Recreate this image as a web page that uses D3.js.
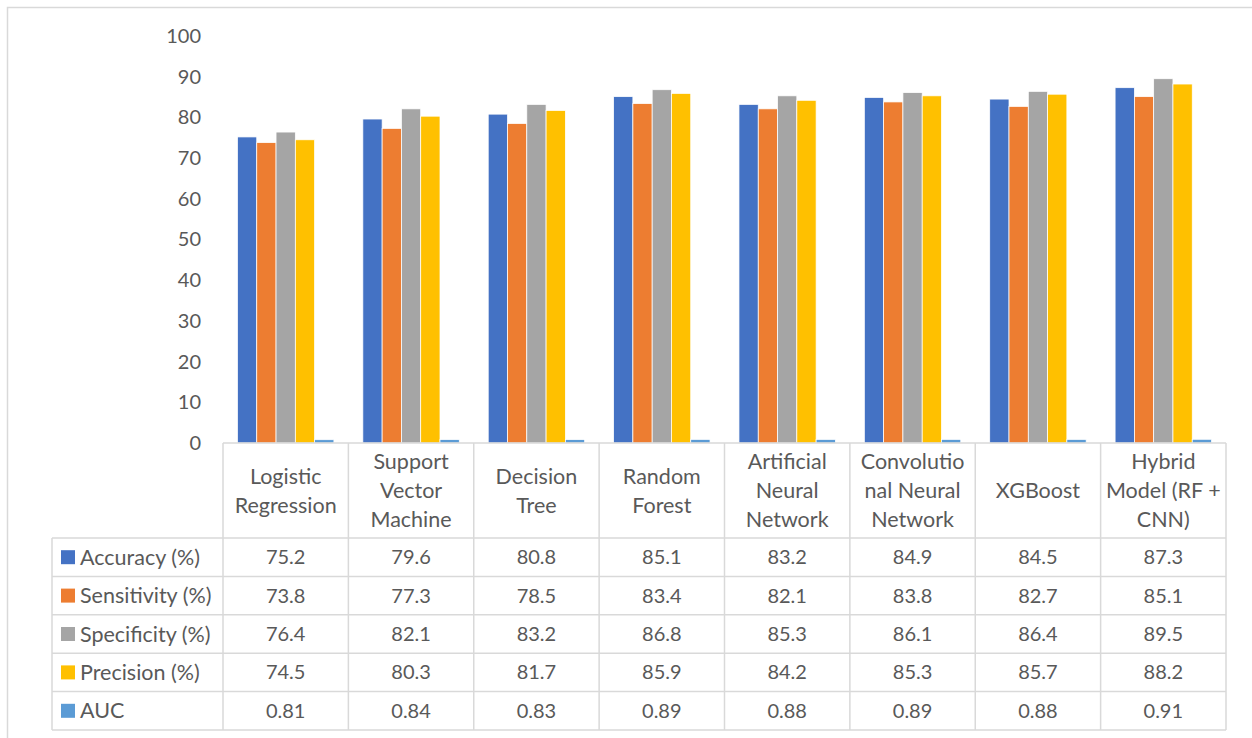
<!DOCTYPE html>
<html>
<head>
<meta charset="utf-8">
<script src="https://cdn.jsdelivr.net/npm/d3@7"></script>
<style>
  html, body { margin: 0; padding: 0; background: #fff; }
  svg { display: block; }
  text { font-family: Lato, "Open Sans", sans-serif; fill: #595959; }
</style>
</head>
<body>
<svg id="chart" width="1252" height="738"></svg>
<script>
// Models compared (header lines of the data table)
const models = [
  ["Logistic", "Regression"],
  ["Support", "Vector", "Machine"],
  ["Decision", "Tree"],
  ["Random", "Forest"],
  ["Artificial", "Neural", "Network"],
  ["Convolutio", "nal Neural", "Network"],
  ["XGBoost"],
  ["Hybrid", "Model (RF +", "CNN)"]
];

const seriesNames = ["Accuracy (%)", "Sensitivity (%)", "Specificity (%)", "Precision (%)", "AUC"];
const seriesColors = ["#4472C4", "#ED7D31", "#A5A5A5", "#FFC000", "#5B9BD5"];

const accuracy    = [75.2, 79.6, 80.8, 85.1, 83.2, 84.9, 84.5, 87.3];
const sensitivity = [73.8, 77.3, 78.5, 83.4, 82.1, 83.8, 82.7, 85.1];
const specificity = [76.4, 82.1, 83.2, 86.8, 85.3, 86.1, 86.4, 89.5];
const precision   = [74.5, 80.3, 81.7, 85.9, 84.2, 85.3, 85.7, 88.2];
const auc         = [0.81, 0.84, 0.83, 0.89, 0.88, 0.89, 0.88, 0.91];

const yTicks = [0, 10, 20, 30, 40, 50, 60, 70, 80, 90, 100];

const series = [accuracy, sensitivity, specificity, precision, auc];

const svg = d3.select("#chart");
const gridColor = "#D9D9D9";
const numSize = 20;     // digits
const wordSize = 21.5;  // words

// Plot frame
const plotLeft = 223, plotRight = 1226;
const plotTop = 36, plotBottom = 443;
const legendLeft = 52;
const headerBottom = 538;
const rowH = 38.4;

// Outer chart border
svg.append("rect")
  .attr("x", 7.5).attr("y", 7.5)
  .attr("width", 1300).attr("height", 800)
  .attr("fill", "none").attr("stroke", gridColor).attr("stroke-width", 1.5);

const x0 = d3.scaleBand()
  .domain(d3.range(models.length))
  .range([plotLeft, plotRight]);

const x1 = d3.scaleBand()
  .domain(d3.range(series.length))
  .range([0, x0.bandwidth()])
  .paddingInner(0)
  .paddingOuter(0.75);

const y = d3.scaleLinear().domain([0, 100]).range([plotBottom, plotTop]);

// Y axis labels (no line, no ticks)
const yAxis = d3.axisLeft(y).tickValues(yTicks).tickSize(0).tickPadding(0);
const yg = svg.append("g").attr("transform", `translate(${201},0)`).call(yAxis);
yg.select(".domain").remove();
yg.selectAll("text")
  .style("font-family", "Lato, 'Open Sans', sans-serif")
  .style("font-size", numSize + "px")
  .attr("fill", "#595959");

// Bars
const groups = svg.append("g").selectAll("g")
  .data(models.map((m, i) => i))
  .join("g")
  .attr("transform", i => `translate(${x0(i)},0)`);

groups.selectAll("rect")
  .data(i => series.map((s, k) => ({ k, v: s[i] })))
  .join("rect")
  .attr("x", d => x1(d.k))
  .attr("y", d => y(d.v))
  .attr("width", x1.bandwidth())
  .attr("height", d => y(0) - y(d.v))
  .attr("fill", d => seriesColors[d.k])
  .attr("stroke", "#fff")
  .attr("stroke-width", 0.75);

// Data table
const table = svg.append("g");
const line = (x1_, y1_, x2_, y2_) => table.append("line")
  .attr("x1", x1_).attr("y1", y1_).attr("x2", x2_).attr("y2", y2_)
  .attr("stroke", gridColor).attr("stroke-width", 1.5);

const tableBottom = headerBottom + rowH * series.length;

// horizontal lines
line(plotLeft, plotBottom, plotRight, plotBottom);
for (let r = 0; r <= series.length; r++) {
  const yy = headerBottom + r * rowH;
  line(legendLeft, yy, plotRight, yy);
}
// vertical lines
line(legendLeft, headerBottom, legendLeft, tableBottom);
for (let c = 0; c <= models.length; c++) {
  const xx = c < models.length ? x0(c) : plotRight;
  line(xx, plotBottom, xx, tableBottom);
}

// header text
const headerMid = (plotBottom + headerBottom) / 2;
const lineH = 29;
models.forEach((lines, i) => {
  const cx = x0(i) + x0.bandwidth() / 2;
  const t = table.append("text")
    .attr("text-anchor", "middle")
    .attr("font-size", wordSize);
  lines.forEach((ln, j) => {
    t.append("tspan")
      .attr("x", cx)
      .attr("y", headerMid + (j - (lines.length - 1) / 2) * lineH)
      .attr("dy", "0.35em")
      .text(ln);
  });
});

// rows: legend key + values
series.forEach((s, k) => {
  const cy = headerBottom + k * rowH + rowH / 2;
  table.append("rect")
    .attr("x", 61).attr("y", cy - 7)
    .attr("width", 14).attr("height", 14)
    .attr("fill", seriesColors[k]);
  table.append("text")
    .attr("x", 80).attr("y", cy).attr("dy", "0.35em")
    .attr("font-size", wordSize)
    .text(seriesNames[k]);
  s.forEach((v, i) => {
    table.append("text")
      .attr("x", x0(i) + x0.bandwidth() / 2)
      .attr("y", cy).attr("dy", "0.35em")
      .attr("text-anchor", "middle")
      .attr("font-size", numSize)
      .text(k === 4 ? v.toFixed(2) : v.toFixed(1));
  });
});
</script>
</body>
</html>
